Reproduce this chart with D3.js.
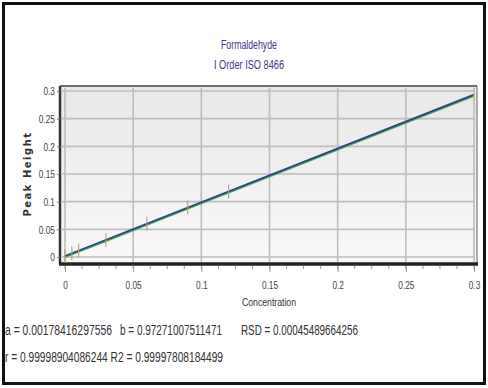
<!DOCTYPE html>
<html><head><meta charset="utf-8">
<script src="https://cdn.jsdelivr.net/npm/d3@7"></script>
<style>
html,body{margin:0;padding:0;background:#fff;}
svg{display:block;}
</style></head>
<body>
<svg id="chart" width="488" height="388"></svg>
<script>
const titleLines = ["Formaldehyde", "I Order ISO 8466"];
const concentration = [0, 0.005, 0.01, 0.03, 0.06, 0.09, 0.12, 0.3];
const peakHeight = [0.0018, 0.0067, 0.0116, 0.0309, 0.0602, 0.0893, 0.1185, 0.2935];
const xTicks = [0, 0.05, 0.1, 0.15, 0.2, 0.25, 0.3];
const yTicks = [0, 0.05, 0.1, 0.15, 0.2, 0.25, 0.3];
const coefA = 0.00178416297556, coefB = 0.97271007511471;
const statLine1 = ["a = 0.00178416297556", "b = 0.97271007511471", "RSD = 0.00045489664256"];
const statLine2 = ["r = 0.99998904086244 R2 = 0.99997808184499"];

const svg = d3.select("#chart");
const font = "'Liberation Sans',Arial,sans-serif";

// outer frame
svg.append("rect").attr("x",3.5).attr("y",3.5).attr("width",481).attr("height",380)
  .attr("fill","#fff").attr("stroke","#111").attr("stroke-width",3);

const x = d3.scaleLinear().domain([0,0.3]).range([65,474]);
const y = d3.scaleLinear().domain([0,0.3]).range([257,91]);
const plot = {x0:60, x1:477, y0:86, y1:264};

const defs = svg.append("defs");
const grad = defs.append("linearGradient").attr("id","bg").attr("x1",0).attr("y1",0).attr("x2",0).attr("y2",1);
grad.append("stop").attr("offset","0%").attr("stop-color","#e8e8e8");
grad.append("stop").attr("offset","100%").attr("stop-color","#f8f8f8");

svg.append("rect").attr("x",plot.x0).attr("y",plot.y0).attr("width",plot.x1-plot.x0).attr("height",plot.y1-plot.y0)
  .attr("fill","url(#bg)");

// grid
const g = svg.append("g");
g.selectAll(".vg").data(xTicks).join("line")
  .attr("x1",d=>x(d)).attr("x2",d=>x(d)).attr("y1",plot.y0+2).attr("y2",plot.y1-2)
  .attr("stroke","#bdbdbd").attr("stroke-width",1.6);
g.selectAll(".hg").data(yTicks).join("line")
  .attr("x1",plot.x0+2).attr("x2",plot.x1-2).attr("y1",d=>y(d)).attr("y2",d=>y(d))
  .attr("stroke","#bdbdbd").attr("stroke-width",1.6);

// frame of plot
svg.append("line").attr("x1",plot.x0).attr("x2",plot.x1).attr("y1",plot.y0).attr("y2",plot.y0).attr("stroke","#444").attr("stroke-width",1.5);
svg.append("line").attr("x1",plot.x1).attr("x2",plot.x1).attr("y1",plot.y0).attr("y2",plot.y1).attr("stroke","#777").attr("stroke-width",1.2);
svg.append("line").attr("x1",plot.x0).attr("x2",plot.x0).attr("y1",plot.y0).attr("y2",plot.y1).attr("stroke","#333").attr("stroke-width",2.5);
svg.append("line").attr("x1",plot.x0-1).attr("x2",plot.x1+1).attr("y1",plot.y1).attr("y2",plot.y1).attr("stroke","#222").attr("stroke-width",3.5);

// x axis
const xMinor = d3.range(0, 0.3001, 0.0125);
svg.append("g").selectAll("line").data(xMinor).join("line")
  .attr("x1",d=>x(d)).attr("x2",d=>x(d)).attr("y1",plot.y1+2).attr("y2",plot.y1+5)
  .attr("stroke","#999").attr("stroke-width",1);
const fmt = d=>String(+d.toFixed(3));
const xAxis = svg.append("g").attr("transform",`translate(0,${plot.y1+2})`)
  .call(d3.axisBottom(x).tickValues(xTicks).tickSize(6).tickFormat(fmt));
xAxis.select(".domain").remove();
xAxis.selectAll(".tick line").attr("stroke","#999");
xAxis.selectAll("text").attr("font-family",font).attr("font-size",11.5).attr("fill","#444")
  .attr("dy","1.2em").attr("transform","scale(0.72,1)");

// y axis
const yAxis = svg.append("g").attr("transform",`translate(${plot.x0},0)`)
  .call(d3.axisLeft(y).tickValues(yTicks).tickSize(3).tickFormat(fmt));
yAxis.select(".domain").remove();
yAxis.selectAll(".tick line").attr("stroke","#777");
yAxis.selectAll("text").attr("font-family",font).attr("font-size",11.5).attr("fill","#444")
  .attr("x",-7).attr("transform","scale(0.72,1)");

// titles
const tLen = [56, 70];
svg.append("g").selectAll("text").data(titleLines).join("text")
  .attr("x",249).attr("y",(d,i)=>49+i*20).attr("text-anchor","middle")
  .attr("font-family",font).attr("font-size",12).attr("fill","#3a3a86")
  .attr("textLength",(d,i)=>tLen[i]).attr("lengthAdjust","spacingAndGlyphs").text(d=>d);

svg.append("text").attr("x",269).attr("y",306).attr("text-anchor","middle")
  .attr("font-family",font).attr("font-size",11).attr("fill","#333")
  .attr("textLength",54).attr("lengthAdjust","spacingAndGlyphs").text("Concentration");

svg.append("text").attr("transform","translate(31,174) rotate(-90)").attr("text-anchor","middle")
  .attr("font-family","'DejaVu Sans',sans-serif").attr("font-size",10).attr("font-weight","bold")
  .attr("letter-spacing","1.5").attr("fill","#333").text("Peak Height");

// data line (green) and regression (blue)
const dataPts = concentration.map((c,i)=>[c,peakHeight[i]]);
svg.append("path").datum(dataPts)
  .attr("d",d3.line().x(d=>x(d[0])).y(d=>y(d[1])+1.2))
  .attr("fill","none").attr("stroke","#3fae49").attr("stroke-width",1.8);
svg.append("path").datum([0,0.3])
  .attr("d",d3.line().x(d=>x(d)).y(d=>y(coefA+coefB*d)))
  .attr("fill","none").attr("stroke","#2f3f8f").attr("stroke-width",1.8);

// point markers
svg.append("g").selectAll("line").data(dataPts).join("line")
  .attr("x1",d=>x(d[0])).attr("x2",d=>x(d[0]))
  .attr("y1",d=>y(d[1])-7).attr("y2",d=>y(d[1])+7)
  .attr("stroke",(d,i)=>i===dataPts.length-1?"#c8c060":"#b8a070").attr("stroke-width",1.2).attr("opacity",0.9);

// stats text (horizontally condensed)
const sx = 0.66;
const stats = svg.append("g").attr("transform",`scale(${sx},1)`)
  .attr("font-family",font).attr("font-size",15).attr("fill","#333");
const l1x = [5, 120, 241];
const l1len = [107, 102, 117];
stats.selectAll(".s1").data(statLine1).join("text").attr("x",(d,i)=>l1x[i]/sx).attr("y",335)
  .attr("textLength",(d,i)=>l1len[i]/sx).attr("lengthAdjust","spacingAndGlyphs").text(d=>d);
stats.selectAll(".s2").data(statLine2).join("text").attr("x",5/sx).attr("y",362)
  .attr("textLength",218/sx).attr("lengthAdjust","spacingAndGlyphs").text(d=>d);
</script>
</body></html>
